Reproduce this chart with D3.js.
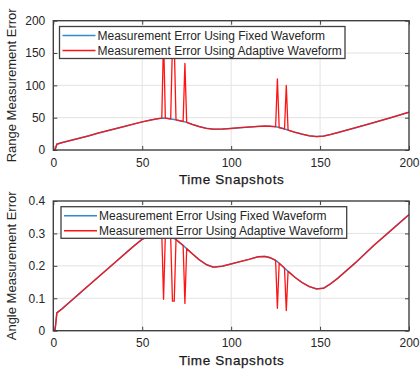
<!DOCTYPE html>
<html>
<head>
<meta charset="utf-8">
<script src="https://cdn.jsdelivr.net/npm/d3@7"></script>
<style>
  html, body { margin: 0; padding: 0; background: #fff; }
  svg { display: block; font-family: "Liberation Sans", Arial, sans-serif; }
</style>
</head>
<body>
<svg id="chart" width="420" height="370"></svg>
<script>
// Sample times (snapshots) shared by both panels
const snapshots = [0, 1, 2, 5, 10, 15, 20, 25, 30, 35, 40, 45, 50, 55, 58, 61, 62, 63, 66, 67, 68, 69,
  73, 74, 75, 78, 82, 86, 90, 95, 100, 105, 110, 115, 119, 122, 125, 126, 127, 130, 131, 132,
  136, 140, 144, 148, 152, 156, 160, 170, 180, 190, 200];

// Range error with the fixed waveform
const rangeFixed = [0, 0.5, 9, 11.5, 15, 18.5, 22, 26, 29.5, 33, 36.5, 40, 43.5, 46.5, 48, 49.3, 49.5, 49.3, 48, 47.6, 47.2, 46.6,
  44.2, 43.5, 42.7, 39.8, 36.3, 33.6, 32.2, 32.4, 33.4, 34.5, 35.5, 36.5, 37, 36.7, 36, 35.5, 34.8, 32.5, 31.6, 30.7,
  27.3, 24.5, 22, 20.8, 21.5, 24, 27, 34.5, 42.2, 50.2, 58.5];

// Angle error with the fixed waveform
const angleFixed = [0, 0.002, 0.055, 0.068, 0.092, 0.116, 0.14, 0.164, 0.188, 0.212, 0.236, 0.26, 0.282, 0.294, 0.298, 0.298, 0.297, 0.296, 0.29, 0.287, 0.284, 0.281,
  0.263, 0.258, 0.253, 0.238, 0.219, 0.204, 0.196, 0.199, 0.206, 0.213, 0.22, 0.228, 0.229, 0.225, 0.217, 0.213, 0.208, 0.193, 0.188, 0.183,
  0.164, 0.148, 0.136, 0.129, 0.131, 0.145, 0.162, 0.21, 0.262, 0.31, 0.358];

// Snapshots where the adaptive waveform departs from the fixed one, and its values there
const adaptiveEventT = [62, 67, 68, 74, 126, 131];
const rangeAdaptiveEvent = [175, 165, 165, 134, 110, 100];
const angleAdaptiveEvent = [0.097, 0.091, 0.091, 0.084, 0.069, 0.062];

// Axis ticks
const xTicks = [0, 50, 100, 150, 200];
const rangeTicks = [0, 50, 100, 150, 200];
const angleTicks = [0, 0.1, 0.2, 0.3, 0.4];
const angleTickLabels = ["0", "0.1", "0.2", "0.3", "0.4"];

const seriesNames = ["Measurement Error Using Fixed Waveform", "Measurement Error Using Adaptive Waveform"];
const colors = ["#2f8ad0", "#ff1414"];

function adaptiveSeries(fixed, eventVals) {
  return snapshots.map((t, i) => {
    const k = adaptiveEventT.indexOf(t);
    return k >= 0 ? eventVals[k] : fixed[i];
  });
}

const svg = d3.select("#chart");
const x0 = 53.3, x1 = 409;

function panel(cfg) {
  const x = d3.scaleLinear().domain([0, 200]).range([x0, x1]);
  const y = d3.scaleLinear().domain(cfg.domain).range([cfg.bottom, cfg.top]);
  const g = svg.append("g");

  // grid
  g.append("g").selectAll("line.gx").data(xTicks.slice(1, -1)).join("line")
    .attr("x1", d => x(d)).attr("x2", d => x(d)).attr("y1", cfg.top).attr("y2", cfg.bottom)
    .attr("stroke", "#e3e3e3").attr("stroke-width", 1);
  g.append("g").selectAll("line.gy").data(cfg.ticks.slice(1, -1)).join("line")
    .attr("x1", x0).attr("x2", x1).attr("y1", d => y(d)).attr("y2", d => y(d))
    .attr("stroke", "#e3e3e3").attr("stroke-width", 1);

  // lines
  const fixedVals = cfg.fixed;
  const adaptVals = adaptiveSeries(cfg.fixed, cfg.events);
  const line = d3.line().x((d, i) => x(snapshots[i])).y(d => y(d));
  g.append("path").datum(fixedVals).attr("d", line)
    .attr("fill", "none").attr("stroke", colors[0]).attr("stroke-width", 1.5);
  g.append("path").datum(adaptVals).attr("d", line)
    .attr("fill", "none").attr("stroke", colors[1]).attr("stroke-width", 1.3).attr("stroke-linejoin", "round");

  // axes
  const fmt = cfg.labels ? (d, i) => cfg.labels[i] : d3.format("d");
  const styleAxis = sel => {
    sel.select(".domain").remove();
    sel.selectAll(".tick line").attr("stroke", "#404040").attr("stroke-width", 1);
    sel.selectAll(".tick text").attr("fill", "#262626").attr("font-size", 12)
      .attr("font-family", "Liberation Sans, Arial, sans-serif");
  };
  g.append("g").attr("transform", `translate(0,${cfg.bottom})`)
    .call(d3.axisBottom(x).tickValues(xTicks).tickSize(-4).tickPadding(8).tickFormat(d3.format("d")))
    .call(styleAxis);
  g.append("g").attr("transform", `translate(0,${cfg.top})`)
    .call(d3.axisTop(x).tickValues(xTicks).tickSize(-4).tickFormat(""))
    .call(styleAxis);
  g.append("g").attr("transform", `translate(${x0},0)`)
    .call(d3.axisLeft(y).tickValues(cfg.ticks).tickSize(-4).tickPadding(8).tickFormat(fmt))
    .call(styleAxis);
  g.append("g").attr("transform", `translate(${x1},0)`)
    .call(d3.axisRight(y).tickValues(cfg.ticks).tickSize(-4).tickFormat(""))
    .call(styleAxis);

  // frame
  g.append("rect").attr("x", x0).attr("y", cfg.top).attr("width", x1 - x0).attr("height", cfg.bottom - cfg.top)
    .attr("fill", "none").attr("stroke", "#404040").attr("stroke-width", 1.4);

  // labels
  g.append("text").attr("x", (x0 + x1) / 2 + 0.5).attr("y", cfg.bottom + 34)
    .attr("text-anchor", "middle").attr("font-size", 13.5).attr("letter-spacing", 0.6)
    .attr("fill", "#1a1a1a").attr("stroke", "#1a1a1a").attr("stroke-width", 0.25)
    .text("Time Snapshots");
  g.append("text").attr("transform", `translate(16,${(cfg.top + cfg.bottom) / 2}) rotate(-90)`)
    .attr("text-anchor", "middle").attr("font-size", 13).attr("fill", "#262626")
    .text(cfg.ylabel);

  // legend
  const L = cfg.legend;
  const lg = g.append("g");
  lg.append("rect").attr("x", L.x).attr("y", L.y).attr("width", L.w).attr("height", L.h)
    .attr("fill", "#fff").attr("stroke", "#404040").attr("stroke-width", 1.3);
  seriesNames.forEach((name, i) => {
    const yy = L.y + 9 + i * 15;
    lg.append("line").attr("x1", L.x + 3).attr("x2", L.x + 36).attr("y1", yy).attr("y2", yy)
      .attr("stroke", colors[i]).attr("stroke-width", 1.5);
    lg.append("text").attr("x", L.x + 38).attr("y", yy + 4.5).attr("font-size", 12)
      .attr("fill", "#262626").attr("font-family", "Liberation Sans, Arial, sans-serif").text(name);
  });
}

panel({
  domain: [0, 200], top: 20.7, bottom: 150, ticks: rangeTicks,
  fixed: rangeFixed, events: rangeAdaptiveEvent,
  ylabel: "Range Measurement Error",
  legend: { x: 59.5, y: 26.5, w: 285.5, h: 32 }
});
panel({
  domain: [0, 0.4], top: 201, bottom: 330.7, ticks: angleTicks, labels: angleTickLabels,
  fixed: angleFixed, events: angleAdaptiveEvent,
  ylabel: "Angle Measurement Error",
  legend: { x: 61, y: 206.7, w: 285.7, h: 31.6 }
});
</script>
</body>
</html>
